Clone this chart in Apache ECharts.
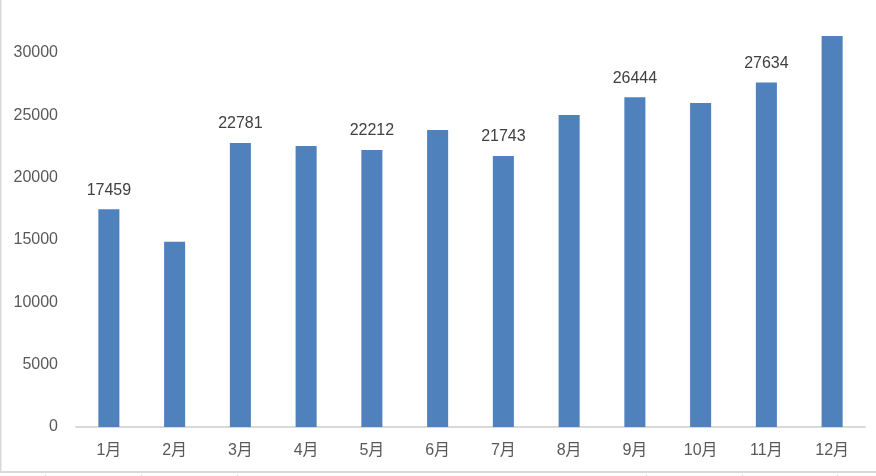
<!DOCTYPE html>
<html>
<head>
<meta charset="utf-8">
<script src="https://cdn.jsdelivr.net/npm/echarts@6/dist/echarts.min.js"></script>
<style>
html,body{margin:0;padding:0;background:#fff;}
#c{width:876px;height:476px;}
</style>
</head>
<body>
<div id="c"></div>
<script>
var categories = ['1月','2月','3月','4月','5月','6月','7月','8月','9月','10月','11月','12月'];
var values = [17459, 14850, 22781, 22540, 22212, 23820, 21743, 25030, 26444, 25990, 27634, 31360];
var labelled = [true, false, true, false, true, false, true, false, true, false, true, false];
var yTicks = [0, 5000, 10000, 15000, 20000, 25000, 30000];

var FONT = '"Liberation Sans", "Noto Sans CJK SC", sans-serif';
var chart = echarts.init(document.getElementById('c'), null, {renderer: 'canvas'});

var dataItems = values.map(function (v, i) {
  return {
    value: v,
    label: {show: labelled[i]}
  };
});

chart.setOption({
  animation: false,
  backgroundColor: '#ffffff',
  textStyle: {fontFamily: FONT},
  grid: {left: 76, right: 11, top: 34.3, bottom: 49, containLabel: false},
  xAxis: {
    type: 'category',
    data: categories,
    axisLine: {show: true, lineStyle: {color: '#d9d9d9', width: 2}},
    axisTick: {show: false},
    axisLabel: {color: '#595959', fontSize: 16, margin: 16, fontFamily: FONT}
  },
  yAxis: {
    type: 'value',
    min: 0,
    max: 31500,
    interval: 5000,
    axisLine: {show: false},
    axisTick: {show: false},
    splitLine: {show: false},
    axisLabel: {
      color: '#595959', fontSize: 16, margin: 18, fontFamily: FONT,
      showMaxLabel: false,
      formatter: function (v) { return yTicks.indexOf(v) >= 0 ? String(v) : ''; }
    }
  },
  series: [{
    type: 'bar',
    data: dataItems,
    barWidth: '32%',
    itemStyle: {color: '#4f81bd'},
    label: {
      position: 'top',
      distance: 11,
      color: '#404040',
      fontSize: 16,
      fontFamily: FONT
    }
  }],
  graphic: [
    {type: 'rect', shape: {x: 0, y: 0, width: 1.5, height: 473}, style: {fill: '#d9d9d9'}, silent: true},
    {type: 'rect', shape: {x: 0, y: 471, width: 876, height: 2}, style: {fill: '#d9d9d9'}, silent: true},
    {type: 'rect', shape: {x: 45, y: 474, width: 1, height: 2}, style: {fill: '#e0e0e0'}, silent: true},
    {type: 'rect', shape: {x: 141, y: 474, width: 1, height: 2}, style: {fill: '#e0e0e0'}, silent: true},
    {type: 'rect', shape: {x: 237, y: 474, width: 1, height: 2}, style: {fill: '#e0e0e0'}, silent: true},
    {type: 'rect', shape: {x: 646, y: 474, width: 1, height: 2}, style: {fill: '#e0e0e0'}, silent: true},
    {type: 'rect', shape: {x: 742, y: 474, width: 1, height: 2}, style: {fill: '#e0e0e0'}, silent: true},
    {type: 'rect', shape: {x: 837, y: 474, width: 1, height: 2}, style: {fill: '#e0e0e0'}, silent: true}
  ]
});
</script>
</body>
</html>
